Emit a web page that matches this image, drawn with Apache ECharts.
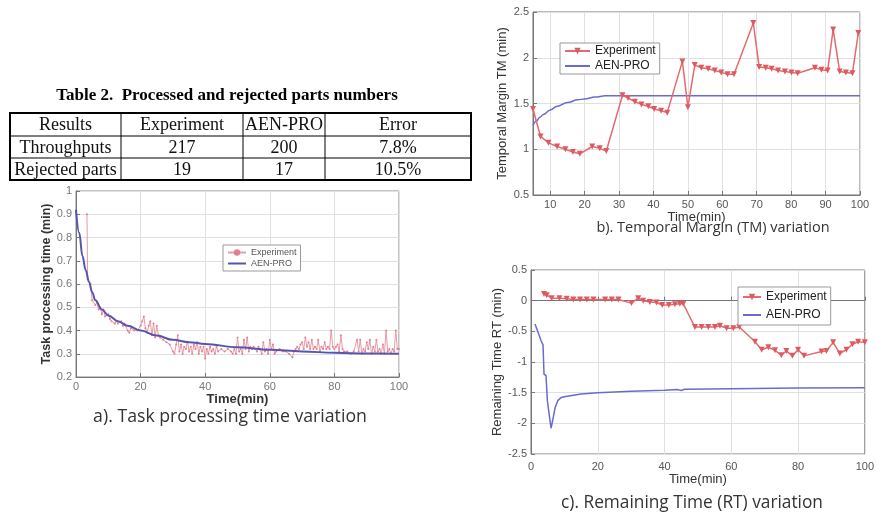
<!DOCTYPE html>
<html><head><meta charset="utf-8">
<script src="https://cdn.jsdelivr.net/npm/echarts@6/dist/echarts.min.js"></script>
<style>html,body{margin:0;padding:0;background:#fff}#c{width:877px;height:516px}</style>
</head><body><div id="c"></div>
<script>
// ---------- table data ----------
const tableTitle = 'Table 2.  Processed and rejected parts numbers';
const tableHeader = ['Results', 'Experiment', 'AEN-PRO', 'Error'];
const tableRows = [
  ['Throughputs', '217', '200', '7.8%'],
  ['Rejected parts', '19', '17', '10.5%']
];
const captions = ['a). Task processing time variation', 'b). Temporal Margin (TM) variation', 'c). Remaining Time (RT) variation'];

// ---------- chart a: task processing time ----------
const aXTicks = [0, 20, 40, 60, 80, 100];
const aExperiment = [[3.4,0.90],[3.6,0.62],[4.5,0.60],[5,0.53],[6,0.51],[6.5,0.52],[7,0.49],[7.5,0.50],[8,0.47],[8.5,0.49],[9,0.46],[10,0.47],[10.5,0.45],[11,0.44],[12,0.43],[12.5,0.44],[13,0.43],[14,0.44],[14.5,0.42],[15,0.43],[16,0.40],[16.5,0.39],[17,0.41],[18,0.40],[19,0.40],[20,0.42],[20.5,0.44],[21,0.46],[21.5,0.41],[22,0.39],[22.5,0.42],[23,0.44],[23.5,0.38],[24,0.43],[24.5,0.37],[25,0.42],[25.5,0.38],[26,0.37],[27,0.36],[28,0.35],[29,0.34],[30,0.31],[30.5,0.30],[31,0.34],[31.5,0.38],[32,0.31],[32.5,0.34],[33,0.30],[33.5,0.33],[34,0.32],[34.5,0.35],[35,0.31],[35.5,0.33],[36,0.30],[36.5,0.34],[37,0.32],[37.5,0.35],[38,0.30],[38.5,0.33],[39,0.31],[39.5,0.33],[40,0.28],[40.5,0.32],[41,0.30],[41.5,0.33],[42,0.31],[42.5,0.32],[43,0.30],[43.5,0.33],[44,0.31],[45,0.32],[46,0.31],[47,0.32],[48,0.31],[48.5,0.30],[49,0.32],[49.5,0.30],[50,0.37],[50.5,0.31],[51,0.32],[51.5,0.30],[52,0.36],[52.5,0.32],[53,0.37],[53.5,0.31],[54,0.33],[54.5,0.32],[55,0.33],[56,0.31],[56.5,0.33],[57,0.32],[57.5,0.30],[58,0.35],[58.5,0.31],[59,0.32],[59.5,0.30],[60,0.36],[60.5,0.32],[61,0.34],[61.5,0.30],[62,0.31],[63,0.32],[64,0.31],[65,0.31],[66,0.30],[67,0.285],[67.5,0.31],[68,0.32],[68.5,0.33],[69,0.32],[69.5,0.34],[70,0.35],[70.5,0.32],[71,0.37],[71.5,0.33],[72,0.35],[72.5,0.32],[73,0.36],[73.5,0.32],[74,0.33],[74.5,0.32],[75,0.36],[75.5,0.31],[76,0.33],[76.5,0.32],[77,0.35],[77.5,0.32],[78,0.33],[78.5,0.32],[79,0.40],[79.5,0.33],[80,0.32],[80.5,0.33],[81,0.34],[81.5,0.31],[82,0.38],[82.5,0.32],[83,0.31],[84,0.31],[85,0.30],[86,0.31],[87,0.36],[87.5,0.31],[88,0.36],[88.5,0.30],[89,0.32],[89.5,0.31],[90,0.35],[90.5,0.32],[91,0.36],[91.5,0.30],[92,0.33],[92.5,0.31],[93,0.36],[93.5,0.31],[94,0.32],[94.5,0.30],[95,0.34],[95.5,0.30],[96,0.40],[96.5,0.31],[97,0.32],[97.5,0.30],[98,0.32],[98.5,0.31],[99,0.40],[99.5,0.32],[100,0.32]];
const aModel = [[0,0.92],[1,0.82],[2,0.72],[3,0.66],[4,0.61],[5,0.565],[6,0.53],[8,0.49],[10,0.465],[13,0.44],[16,0.42],[20,0.40],[25,0.378],[30,0.36],[35,0.35],[40,0.342],[50,0.328],[60,0.317],[70,0.31],[80,0.304],[90,0.301],[100,0.30]];

// ---------- chart b: temporal margin ----------
const bXTicks = [10, 20, 30, 40, 50, 60, 70, 80, 90, 100];
const bExperiment = [[5,1.44],[7.2,1.14],[9.5,1.07],[12,1.03],[14.4,1.00],[16.6,0.97],[18.6,0.95],[22.2,1.03],[24.4,1.01],[26.3,0.98],[31,1.59],[32.6,1.56],[34.6,1.52],[36.5,1.49],[38.5,1.47],[40.2,1.44],[42.2,1.42],[44,1.40],[48.4,1.96],[50,1.46],[52,1.92],[53.9,1.89],[55.9,1.88],[57.8,1.86],[59.7,1.84],[61.5,1.82],[63.4,1.82],[69,2.38],[70.7,1.90],[72.6,1.89],[74.3,1.88],[76.2,1.86],[78.2,1.85],[80.1,1.84],[81.9,1.83],[86.9,1.89],[88.8,1.87],[90.6,1.86],[92.2,2.31],[94.1,1.85],[95.9,1.84],[97.8,1.83],[99.5,2.27]];
const bModel = [[5,1.26],[6,1.31],[7,1.35],[8,1.38],[10,1.43],[12,1.47],[15,1.51],[18,1.54],[20,1.55],[23,1.57],[26,1.585],[40,1.585],[60,1.585],[80,1.585],[100,1.585]];

// ---------- chart c: remaining time ----------
const cXTicks = [0, 20, 40, 60, 80, 100];
const cExperiment = [[3.9,0.11],[4.7,0.09],[6.2,0.04],[8.5,0.04],[10.7,0.03],[12.7,0.02],[14.7,0.02],[16.7,0.02],[18.7,0.02],[22.2,0.02],[24.2,0.02],[26.2,0.02],[30.1,-0.04],[32.1,0.04],[33.6,0.00],[35.6,-0.02],[37.6,-0.03],[39.3,-0.07],[41.3,-0.07],[43.1,-0.06],[44.6,-0.05],[45.6,-0.05],[49.1,-0.43],[51.1,-0.43],[53.1,-0.43],[55.1,-0.43],[56.6,-0.41],[58.6,-0.45],[60.6,-0.45],[62.4,-0.43],[67.1,-0.67],[69.1,-0.80],[71.1,-0.76],[73.1,-0.81],[75,-0.89],[76.5,-0.82],[78.3,-0.90],[80,-0.80],[81.8,-0.90],[87,-0.83],[88.5,-0.82],[90.5,-0.68],[92.5,-0.86],[94.5,-0.80],[96.3,-0.71],[98,-0.67],[100,-0.68]];
const cModel = [[1.2,-0.38],[2,-0.5],[3,-0.65],[3.6,-0.72],[3.9,-1.2],[4.5,-1.22],[4.9,-1.63],[5.3,-1.66],[6,-2.08],[6.5,-1.95],[7.2,-1.75],[8,-1.63],[9,-1.58],[10,-1.565],[15,-1.52],[20,-1.5],[30,-1.475],[40,-1.46],[44,-1.45],[45,-1.465],[46,-1.445],[60,-1.435],[80,-1.425],[100,-1.42]];

// ---------- layout ----------
const chart = echarts.init(document.getElementById('c'), null, {renderer: 'canvas'});
const SANS = '"Liberation Sans", Arial, sans-serif';
const SERIF = '"Liberation Serif", "Times New Roman", serif';
const CAP = '"Open Sans", Lato, sans-serif';

const colX = [10, 121, 243, 325, 471];
const rowY = [113, 136, 158, 180];
const graphics = [];
graphics.push({type: 'text', style: {text: tableTitle, x: 227, y: 96, font: 'bold 17px ' + SERIF, fill: '#000', align: 'center', verticalAlign: 'middle'}});
graphics.push({type: 'rect', shape: {x: colX[0], y: rowY[0], width: colX[4] - colX[0], height: rowY[3] - rowY[0]}, style: {fill: 'none', stroke: '#000', lineWidth: 2}});
for (let i = 1; i < 3; i++) graphics.push({type: 'line', shape: {x1: colX[0], y1: rowY[i], x2: colX[4], y2: rowY[i]}, style: {stroke: '#000', lineWidth: 1}});
for (let j = 1; j < 4; j++) graphics.push({type: 'line', shape: {x1: colX[j], y1: rowY[0], x2: colX[j], y2: rowY[3]}, style: {stroke: '#000', lineWidth: 1}});
[tableHeader].concat(tableRows).forEach((row, r) => {
  row.forEach((cell, j) => {
    graphics.push({type: 'text', style: {text: cell, x: (colX[j] + colX[j + 1]) / 2, y: (rowY[r] + rowY[r + 1]) / 2 + 1, font: '18px ' + SERIF, fill: '#111', align: 'center', verticalAlign: 'middle'}});
  });
});
const capPos = [[230, 417, 17.7], [713, 228, 14.5], [692, 503, 17.3]];
captions.forEach((t, i) => graphics.push({type: 'text', style: {text: t, x: capPos[i][0], y: capPos[i][1], font: capPos[i][2] + 'px ' + CAP, fill: '#333', align: 'center', verticalAlign: 'middle'}}));

function xAxisCfg(gi, min, max, ticks, nameGap, opts) {
  opts = opts || {};
  return {
    gridIndex: gi, type: 'value', min: min, max: max,
    interval: opts.interval, name: 'Time(min)', nameLocation: 'middle', nameGap: nameGap,
    nameTextStyle: {fontFamily: SANS, fontSize: 13, color: opts.nameColor || '#333', fontWeight: opts.bold ? 'bold' : 'normal'},
    axisLine: {show: true, lineStyle: {color: '#777'}},
    axisTick: {show: true, inside: true, length: 4, lineStyle: {color: '#777'}, customValues: opts.custom ? ticks : undefined},
    axisLabel: {fontFamily: SANS, fontSize: 11, color: opts.labelColor || '#555', margin: opts.margin || 4, customValues: opts.custom ? ticks : undefined},
    splitLine: {show: true, lineStyle: {color: '#e0e0e0', width: 1}}
  };
}
function yAxisCfg(gi, min, max, interval, name, nameGap, opts) {
  opts = opts || {};
  return {
    gridIndex: gi, type: 'value', min: min, max: max, interval: interval,
    name: name, nameLocation: 'middle', nameGap: nameGap,
    nameTextStyle: {fontFamily: SANS, fontSize: opts.nameSize || 13, color: opts.nameColor || '#333', fontWeight: opts.bold ? 'bold' : 'normal'},
    axisLine: {show: true, lineStyle: {color: '#777'}},
    axisTick: {show: true, inside: true, length: 4, lineStyle: {color: '#777'}},
    axisLabel: {fontFamily: SANS, fontSize: 11, color: opts.labelColor || '#555', margin: 4},
    splitLine: {show: true, lineStyle: {color: '#e0e0e0', width: 1}}
  };
}
function legendCfg(prefix, left, top, fontSize, iw, color, pad, gap) {
  return {
    data: [prefix + 'Experiment', {name: prefix + 'AEN-PRO', itemStyle: {opacity: 0}}],
    left: left, top: top, orient: 'vertical',
    backgroundColor: '#fff', borderColor: '#999', borderWidth: 1, padding: pad, itemGap: gap,
    itemWidth: iw, itemHeight: 8, formatter: n => n.slice(2), selectedMode: false,
    textStyle: {fontFamily: SANS, fontSize: fontSize, color: color}
  };
}

const option = {
  animation: false,
  backgroundColor: '#fff',
  graphic: graphics,
  grid: [
    {left: 76, top: 191, width: 323, height: 186, show: true, borderColor: '#888', borderWidth: 1, backgroundColor: 'transparent'},
    {left: 533, top: 12, width: 327, height: 183, show: true, borderColor: '#777', borderWidth: 1, backgroundColor: 'transparent'},
    {left: 531, top: 270, width: 334, height: 184, show: true, borderColor: '#777', borderWidth: 1, backgroundColor: 'transparent'}
  ],
  xAxis: [
    xAxisCfg(0, 0, 100, aXTicks, 10, {interval: 20, bold: true, labelColor: '#777'}),
    xAxisCfg(1, 5, 100, bXTicks, 12, {custom: true}),
    xAxisCfg(2, 0, 100, cXTicks, 19, {interval: 20, margin: 7})
  ],
  yAxis: [
    yAxisCfg(0, 0.2, 1, 0.1, 'Task processing time (min)', 21, {bold: true, nameSize: 12.5, labelColor: '#777'}),
    yAxisCfg(1, 0.5, 2.5, 0.5, 'Temporal Margin TM (min)', 24),
    yAxisCfg(2, -2.5, 0.5, 0.5, 'Remaining Time RT (min)', 27)
  ],
  legend: [
    legendCfg('a-', 223, 245, 9, 18, '#555', [3, 4], 2),
    legendCfg('b-', 560, 43, 12, 25, '#222', [2, 4], 3),
    legendCfg('c-', 738, 287, 12, 18, '#222', [4, 4], 6)
  ],
  series: [
    {name: 'a-Experiment', type: 'line', xAxisIndex: 0, yAxisIndex: 0, data: aExperiment, symbol: 'circle', symbolSize: 2, showSymbol: true,
      lineStyle: {color: '#e99aa5', width: 1}, itemStyle: {color: '#e27f90'}, z: 2},
    {name: 'a-AEN-PRO', type: 'line', xAxisIndex: 0, yAxisIndex: 0, data: aModel, smooth: 0.4, smoothMonotone: 'x', showSymbol: false, symbol: 'none',
      lineStyle: {color: '#5555b0', width: 2}, itemStyle: {color: '#5555b0'}, z: 3},
    {name: 'b-Experiment', type: 'line', xAxisIndex: 1, yAxisIndex: 1, data: bExperiment, symbol: 'triangle', symbolRotate: 180, symbolSize: 6,
      lineStyle: {color: '#e46a6e', width: 1.5}, itemStyle: {color: '#dd5a60'}, z: 3},
    {name: 'b-AEN-PRO', type: 'line', xAxisIndex: 1, yAxisIndex: 1, data: bModel, smooth: 0.4, smoothMonotone: 'x', symbol: 'none',
      lineStyle: {color: '#6b6bcf', width: 1.5}, itemStyle: {color: '#6b6bcf'}, z: 2},
    {name: 'c-Experiment', type: 'line', xAxisIndex: 2, yAxisIndex: 2, data: cExperiment, symbol: 'triangle', symbolRotate: 180, symbolSize: 6,
      lineStyle: {color: '#e46a6e', width: 1.5}, itemStyle: {color: '#dd5a60'}, z: 3},
    {name: 'c-AEN-PRO', type: 'line', xAxisIndex: 2, yAxisIndex: 2, data: cModel, symbol: 'none',
      lineStyle: {color: '#6b6bcf', width: 1.5}, itemStyle: {color: '#6b6bcf'}, z: 2}
  ]
};
chart.setOption(option);
</script></body></html>
